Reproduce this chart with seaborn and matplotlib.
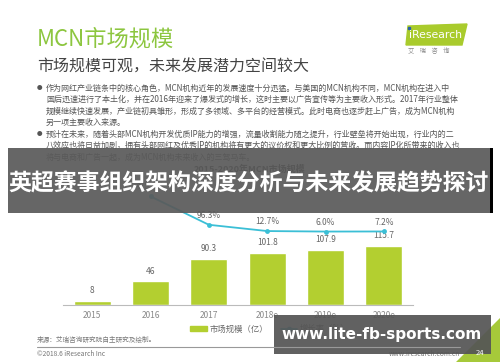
import numpy as np
import pandas as pd
import matplotlib
matplotlib.use("Agg")
import matplotlib.pyplot as plt
import seaborn as sns
from matplotlib.patches import Rectangle, Polygon, Patch
from matplotlib.lines import Line2D

sns.set_style("white")
plt.rcParams['font.family'] = ['Noto Sans CJK SC', 'DejaVu Sans']

# data
years = ["2015", "2016", "2017", "2018e", "2019e", "2020e"]
market = [8, 46, 90.3, 101.8, 107.9, 115.7]
growth_years = ["2016", "2017", "2018e", "2019e", "2020e"]
growth = [475.0, 96.3, 12.7, 6.0, 7.2]
growth_labels = ["475.0%", "96.3%", "12.7%", "6.0%", "7.2%"]

bullet_lines = [
    "作为网红产业链条中的核心角色，MCN机构近年的发展速度十分迅猛。与美国的MCN机构不同，MCN机构在进入中",
    "国后迅速进行了本土化，并在2016年迎来了爆发式的增长，这时主要以广告宣传等为主要收入形式。2017年行业整体",
    "规模继续快速发展，产业链初具雏形，形成了多领域、多平台的经营模式。此时电商也逐步赶上广告，成为MCN机构",
    "另一项主要收入来源。",
    "预计在未来，随着头部MCN机构开发优质IP能力的增强，流量收割能力随之提升，行业壁垒将开始出现，行业内的二",
    "八效应也将日益加剧，拥有头部网红及优秀IP的机构将有更大的议价权和更大比例的营收。而内容IP化所带来的收入也",
    "将与电商和广告一起，成为MCN机构未来收入的三驾马车。",
]
bullet_starts = [0, 4]

green = "#b3cf30"
cyan = "#3bbfd6"

fig = plt.figure(figsize=(5, 3.62), dpi=100)
W, H = 500, 362

def ft(x, y, s, **kw):
    fig.text(x / W, 1 - y / H, s, **kw)

# header
ft(37, 39, "MCN市场规模", fontsize=16, color="#8cc63f", va="center")
ft(37, 67, "市场规模可观，未来发展潜力空间较大", fontsize=11.5, color="#444444", va="center")
for i, line in enumerate(bullet_lines):
    y = 88 + i * 11.5
    if i in bullet_starts:
        ft(37, y, "●", fontsize=4, color="#555555", va="center")
    ft(46, y, line, fontsize=5.8, color="#555555", va="center")
ft(250, 169, "2015-2020年MCN市场规模", fontsize=6.5, color="#333333", weight="bold",
   ha="center", va="center")

# chart
df = pd.DataFrame({"year": years, "market": market})
ax = fig.add_axes([63 / W, 1 - 305 / H, 350 / W, 115 / H])
sns.barplot(data=df, x="year", y="market", color=green, width=0.63, saturation=1, ax=ax)
ax.bar_label(ax.containers[0], labels=[f"{v:g}" for v in market], padding=4,
             fontsize=6, color="#666666")
ax.set_xlim(-0.5, 5.5)
ax.set_ylim(0, 225)
ax.set_xlabel("")
ax.set_ylabel("")
ax.set_yticks([])
ax.tick_params(axis="x", length=0, labelsize=6, labelcolor="#888888", pad=4)
for s in ["top", "right", "left"]:
    ax.spines[s].set_visible(False)
ax.spines["bottom"].set_color("#bbbbbb")
ax.patch.set_visible(False)

ax2 = ax.twinx()
pos = [years.index(y) for y in growth_years]
sns.lineplot(x=pos, y=growth, color=cyan, marker="o", markersize=3.5,
             markeredgewidth=0, linewidth=1.3, ax=ax2)
for p, g, lab in zip(pos, growth, growth_labels):
    ax2.annotate(lab, (p, g), xytext=(0, 5), textcoords="offset points",
                 ha="center", fontsize=6, color="#666666")
ax2.set_ylim(-973, 560)
ax2.set_xlim(-0.5, 5.5)
ax2.axis("off")

handles = [Patch(color=green), Line2D([], [], color=cyan, marker="o", markersize=3, lw=1.3)]
fig.legend(handles, ["市场规模（亿）", "增长率（%）"], loc="center",
           bbox_to_anchor=(270 / W, 1 - 329 / H), ncol=2, frameon=False,
           fontsize=6, labelcolor="#666666", handlelength=2.0, handleheight=0.5,
           columnspacing=1.5, handletextpad=0.3)

# footer
ft(37, 340, "来源：艾瑞咨询研究院自主研究及绘制。", fontsize=4.8, color="#777777", va="center")
ft(37, 354, "©2018.6 iResearch Inc", fontsize=4.8, color="#777777", va="center")
ft(460, 354, "www.iresearch.com.cn", fontsize=4.8, color="#777777", va="center", ha="right")

ov = fig.add_axes([0, 0, 1, 1], zorder=10)
ov.set_xlim(0, W)
ov.set_ylim(H, 0)
ov.axis("off")
ov.add_line(Line2D([37, 460], [347, 347], color="#999999", lw=0.8))
ov.add_patch(Polygon([[456, 362], [500, 362], [500, 318]], color="#a6c93a"))
ov.text(480, 353, "24", color="white", fontsize=5.5, ha="center", va="center")

# iResearch logo
ov.add_patch(Polygon([[408, 26], [467, 24], [462, 45], [406, 45]], color="#a9cb2c"))
ov.text(409, 35.5, "iResearch", color="white", fontsize=7.8, va="center", family="DejaVu Sans")
ov.add_patch(Rectangle((407.5, 27), 2.2, 2.2, color="#2a5fa8"))
ov.text(408, 51, "艾    瑞    咨    询", color="#888888", fontsize=4.5, va="center")

# overlay banners
ov.add_patch(Rectangle((8, 148), 482, 65, facecolor="#5a5a5a", alpha=0.93, lw=0))
ov.add_patch(Rectangle((490, 148), 2.5, 65, facecolor="black", lw=0))
ov.text(249, 184, "英超赛事组织架构深度分析与未来发展趋势探讨", color="white",
        fontsize=16.5, weight="bold", ha="center", va="center")
ov.add_patch(Rectangle((274, 315), 217, 39, facecolor="#555555", alpha=0.93, lw=0))
ov.text(382, 334, "www.lite-fb-sports.com", color="white", fontsize=11,
        weight="bold", ha="center", va="center", family="DejaVu Sans")

fig.savefig("out.png", dpi=100, facecolor="white")
